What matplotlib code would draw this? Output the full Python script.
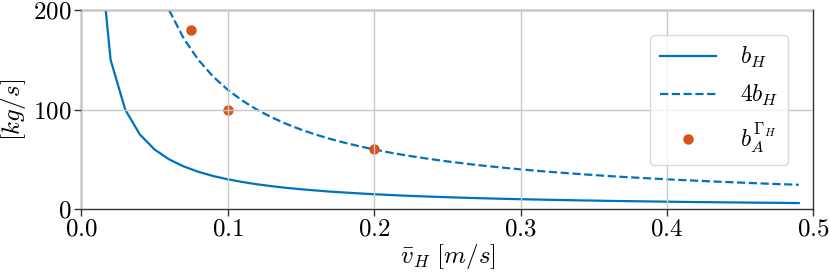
import matplotlib
matplotlib.use("Agg")
import matplotlib.pyplot as plt

plt.rcParams['mathtext.fontset'] = 'cm'
plt.rcParams['font.family'] = ['serif']
plt.rcParams['font.serif'] = ['cmr10', 'DejaVu Serif']
plt.rcParams['axes.formatter.use_mathtext'] = True

# velocities [m/s]
v = [0.01, 0.02, 0.03, 0.04, 0.05, 0.06, 0.07, 0.08, 0.09, 0.10,
     0.11, 0.12, 0.13, 0.14, 0.15, 0.16, 0.17, 0.18, 0.19, 0.20,
     0.21, 0.22, 0.23, 0.24, 0.25, 0.26, 0.27, 0.28, 0.29, 0.30,
     0.31, 0.32, 0.33, 0.34, 0.35, 0.36, 0.37, 0.38, 0.39, 0.40,
     0.41, 0.42, 0.43, 0.44, 0.45, 0.46, 0.47, 0.48, 0.49]
b_H = [300, 150, 100, 75, 60, 50, 42.9, 37.5, 33.3, 30,
       27.3, 25, 23.1, 21.4, 20, 18.8, 17.6, 16.7, 15.8, 15,
       14.3, 13.6, 13.0, 12.5, 12, 11.5, 11.1, 10.7, 10.3, 10,
       9.7, 9.4, 9.1, 8.8, 8.6, 8.3, 8.1, 7.9, 7.7, 7.5,
       7.3, 7.1, 7.0, 6.8, 6.7, 6.5, 6.4, 6.3, 6.1]
b_H4 = [1200, 600, 400, 300, 240, 200, 171.4, 150, 133.3, 120,
        109.1, 100, 92.3, 85.7, 80, 75, 70.6, 66.7, 63.2, 60,
        57.1, 54.5, 52.2, 50, 48, 46.2, 44.4, 42.9, 41.4, 40,
        38.7, 37.5, 36.4, 35.3, 34.3, 33.3, 32.4, 31.6, 30.8, 30,
        29.3, 28.6, 27.9, 27.3, 26.7, 26.1, 25.5, 25, 24.5]
pts_v = [0.075, 0.1, 0.2]
pts_b = [180, 100, 60]

xticks = [0.0, 0.1, 0.2, 0.3, 0.4, 0.5]
xticklabels = ['$0.0$', '$0.1$', '$0.2$', '$0.3$', '$0.4$', '$0.5$']
yticks = [0, 100, 200]
yticklabels = ['$0$', '$100$', '$200$']

blue = '#0072BD'
orange = '#D95319'

fig = plt.figure(figsize=(8.3, 2.77), dpi=100)
ax = fig.add_axes([0.098, 0.245, 0.882, 0.718])

ax.plot(v, b_H, color=blue, lw=1.6, label='$b_H$')
ax.plot(v, b_H4, color=blue, lw=1.6, ls='--', label='$4b_H$')
ax.plot(pts_v, pts_b, 'o', color=orange, ms=6.5,
        label=r'$b_A^{\mathbf{\Gamma}_H}$', zorder=2)

ax.set_xlim(0, 0.5)
ax.set_ylim(0, 200)
ax.set_xticks(xticks)
ax.set_xticklabels(xticklabels, fontsize=18)
ax.set_yticks(yticks)
ax.set_yticklabels(yticklabels, fontsize=18)
ax.grid(True, color='#c8c8c8', lw=1.0)
ax.set_axisbelow(False)
for s in ax.spines.values():
    s.set_color('#333333')
    s.set_linewidth(1.0)
ax.tick_params(direction='out', length=5, width=1, color='#333333', pad=2)

ax.set_xlabel(r'$\bar{v}_H\ [m/s]$', fontsize=18, labelpad=1)
ax.set_ylabel(r'$[kg/s]$', fontsize=18, labelpad=4)

leg = ax.legend(loc='upper right', fontsize=17, frameon=True, fancybox=True,
                borderpad=0.42, labelspacing=0.55, handlelength=2.4,
                handletextpad=1.0, bbox_to_anchor=(0.982, 0.935))
leg.get_frame().set_edgecolor('#d0d0d0')
leg.get_frame().set_alpha(0.8)

fig.savefig('out.png', dpi=100)
